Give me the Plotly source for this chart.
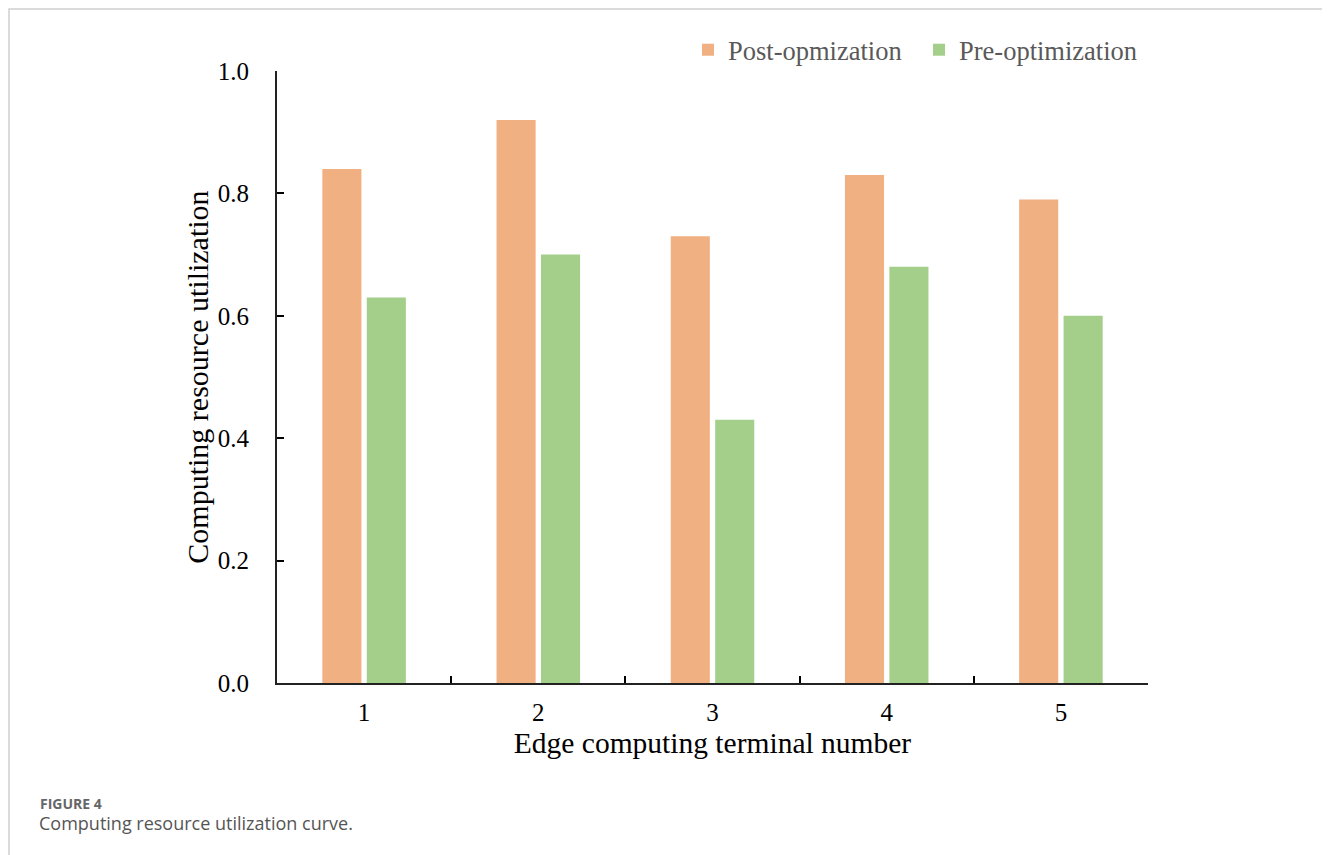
import plotly.graph_objects as go

categories = ["1", "2", "3", "4", "5"]
post_opt = [0.84, 0.92, 0.73, 0.83, 0.79]
pre_opt = [0.63, 0.70, 0.43, 0.68, 0.60]
series_names = ["Post-opmization", "Pre-optimization"]
y_ticks = [0.0, 0.2, 0.4, 0.6, 0.8, 1.0]

OFF = 8  # browser body margin
W, H = 1330 - OFF, 855 - OFF
# plot area in screen pixels
SL, SR, ST, SB = 277, 1148, 71, 683
L, R, T, B = SL - OFF, SR - OFF, ST - OFF, SB - OFF


def px(x):
    return (x - SL) / (SR - SL)


def py(y):
    return (SB - y) / (SB - ST)


serif = "Liberation Serif, Times New Roman, serif"

fig = go.Figure()
fig.add_trace(go.Bar(x=categories, y=post_opt, name=series_names[0],
                     marker=dict(color="#F1B081", line=dict(width=0))))
fig.add_trace(go.Bar(x=categories, y=pre_opt, name=series_names[1],
                     marker=dict(color="#A4CF8A", line=dict(width=0))))

fig.update_layout(
    width=W, height=H,
    margin=dict(l=L, r=W - R, t=T, b=H - B, pad=0),
    paper_bgcolor="white", plot_bgcolor="white",
    barmode="group", bargap=0.49, bargroupgap=0.12,
    font=dict(family=serif, color="black", size=25),
    showlegend=True,
    legend=dict(orientation="h", x=px(688), xanchor="left", y=py(50), yanchor="middle",
                font=dict(family=serif, size=26.5, color="#595959"),
                entrywidth=186, entrywidthmode="pixels",
                bgcolor="rgba(0,0,0,0)", itemclick=False, traceorder="normal"),
    xaxis=dict(
        type="category", range=[-0.5, 4.5], tickson="boundaries",
        ticks="inside", ticklen=7, tickwidth=1.5, tickcolor="black",
        showline=True, linecolor="#222222", linewidth=1.8, showgrid=False, zeroline=False,
        tickfont=dict(family=serif, size=25, color="black"), ticklabelstandoff=6,
        title=dict(text="Edge computing terminal number", standoff=7,
                   font=dict(family=serif, size=29.5, color="black")),
    ),
    yaxis=dict(
        range=[0, 1], tickvals=y_ticks, tickformat=".1f",
        ticks="inside", ticklen=7, tickwidth=1.5, tickcolor="black",
        showline=True, linecolor="#222222", linewidth=1.8, showgrid=False, zeroline=False,
        tickfont=dict(family=serif, size=25, color="black"), ticklabelstandoff=21,
        title=dict(text="Computing resource utilization", standoff=0,
                   font=dict(family=serif, size=30, color="black")),
    ),
    shapes=[dict(type="rect", xref="paper", yref="paper",
                 x0=px(9), x1=px(1328.5), y0=py(900), y1=py(9),
                 line=dict(color="#CFCFCF", width=1.5), fillcolor="rgba(0,0,0,0)",
                 layer="below")],
    annotations=[
        dict(text="<b>FIGURE 4</b>", xref="paper", yref="paper", x=px(38), y=py(803),
             xanchor="left", yanchor="middle", showarrow=False,
             font=dict(family="Open Sans, sans-serif", size=14, color="#666666")),
        dict(text="Computing resource utilization curve.", xref="paper", yref="paper",
             x=px(37), y=py(823), xanchor="left", yanchor="middle", showarrow=False,
             font=dict(family="Open Sans, sans-serif", size=18, color="#555555")),
    ],
)

fig.write_html("out.html")
